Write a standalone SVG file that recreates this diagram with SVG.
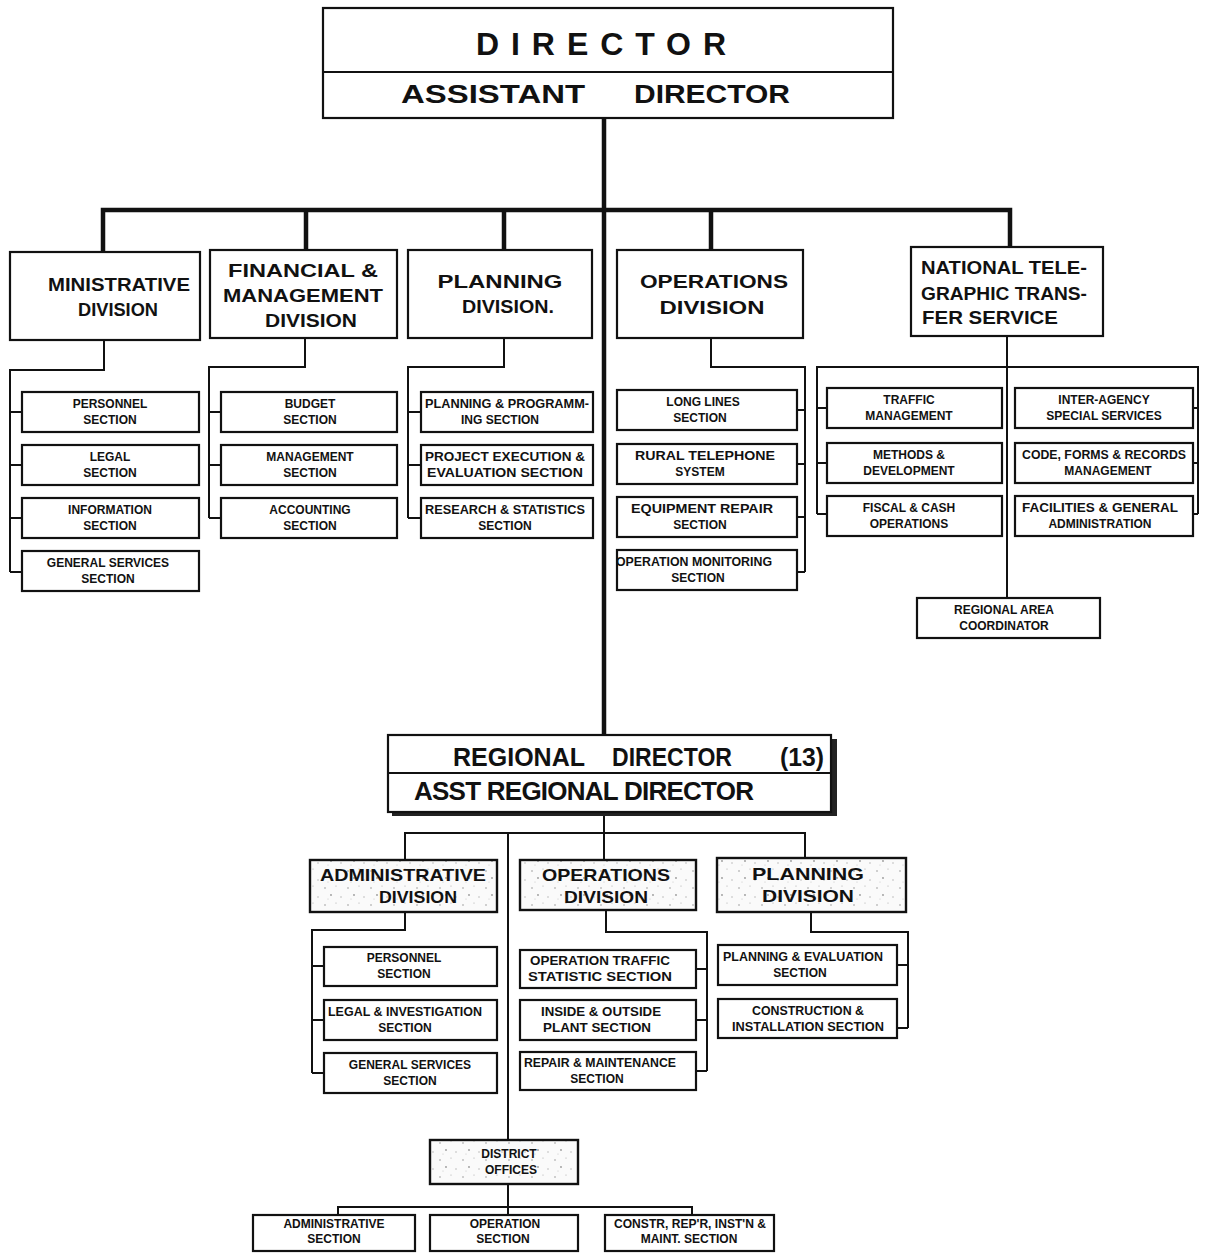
<svg xmlns="http://www.w3.org/2000/svg" width="1205" height="1254" viewBox="0 0 1205 1254">
<style>
.box{fill:#fff;stroke:#111;stroke-width:2.2}
.spk{fill:url(#speck);stroke:#111;stroke-width:2.4}
.ln{fill:none;stroke:#111;stroke-width:2}
.thick{fill:none;stroke:#111;stroke-width:4.5}
text{font-family:"Liberation Sans",Arial,sans-serif;font-weight:bold;fill:#111;text-anchor:middle}
.big{font-size:32px}
.h1{font-size:26px}
.dv{font-size:19px}
.dv2{font-size:17px}
.sc{font-size:12px}
</style>
<defs>
<pattern id="speck" width="23" height="17" patternUnits="userSpaceOnUse">
<rect width="23" height="17" fill="#fafafa"/>
<circle cx="3" cy="4" r="0.8" fill="#999"/>
<circle cx="14" cy="2" r="0.6" fill="#aaa"/>
<circle cx="9" cy="11" r="0.9" fill="#999"/>
<circle cx="19" cy="13" r="0.7" fill="#aaa"/>
<circle cx="6" cy="15" r="0.5" fill="#bbb"/>
</pattern>
</defs>
<rect width="1205" height="1254" fill="#fff"/>

<g id="connectors">
<path class="thick" d="M604,118 V736"/>
<path class="thick" d="M103,252 V210 H1010 V247 M306,210 V250 M504,210 V250 M711,210 V250"/>
<!-- ministrative -->
<path class="ln" d="M104,340 V370 H10 V572 M10,412 H22 M10,465 H22 M10,518 H22 M10,572 H22"/>
<!-- financial -->
<path class="ln" d="M305,338 V367 H209 V518 M209,412 H221 M209,465 H221 M209,518 H221"/>
<!-- planning -->
<path class="ln" d="M504,338 V367 H408 V518 M408,412 H421 M408,465 H421 M408,518 H421"/>
<!-- operations -->
<path class="ln" d="M711,338 V367 H805 V572 M805,410 H797 M805,464 H797 M805,517 H797 M805,572 H797"/>
<!-- NTTS -->
<path class="ln" d="M1007,336 V598 M817,514 V367 H1198 V514 M817,408 H827 M817,463 H827 M817,514 H827 M1198,408 H1193 M1198,463 H1193 M1198,514 H1193"/>
<!-- regional -->
<path class="ln" d="M604,812 V860 M405,860 V833 H805 V858 M508,833 V1140"/>
<path class="ln" d="M405,912 V930 H312 V1073 M312,966 H324 M312,1020 H324 M312,1073 H324"/>
<path class="ln" d="M606,910 V932 H707 V1071 M707,969 H696 M707,1020 H696 M707,1071 H696"/>
<path class="ln" d="M811,912 V932 H908 V1028 M908,965 H897 M908,1028 H897"/>
<path class="ln" d="M508,1184 V1207 M338,1215 V1207 H692 V1215 M508,1207 V1215"/>
</g>

<g id="director">
<rect class="box" x="323" y="8" width="570" height="110"/>
<line x1="323" y1="72" x2="893" y2="72" stroke="#111" stroke-width="2"/>
<text class="big" x="601" y="55" textLength="250" lengthAdjust="spacing">DIRECTOR</text>
<text class="h1" x="493" y="103" textLength="184" lengthAdjust="spacingAndGlyphs">ASSISTANT</text>
<text class="h1" x="712" y="103" textLength="156" lengthAdjust="spacingAndGlyphs">DIRECTOR</text>
</g>

<g id="div-admin">
<rect class="box" x="10" y="252" width="190" height="88"/>
<text class="dv" x="119" y="291" textLength="142" lengthAdjust="spacingAndGlyphs">MINISTRATIVE</text>
<text class="dv" x="118" y="316" textLength="80" lengthAdjust="spacingAndGlyphs">DIVISION</text>
</g>
<g id="div-fin">
<rect class="box" x="210" y="250" width="187" height="88"/>
<text class="dv" x="303" y="277" textLength="150" lengthAdjust="spacingAndGlyphs">FINANCIAL &amp;</text>
<text class="dv" x="303" y="302" textLength="160" lengthAdjust="spacingAndGlyphs">MANAGEMENT</text>
<text class="dv" x="311" y="327" textLength="92" lengthAdjust="spacingAndGlyphs">DIVISION</text>
</g>
<g id="div-plan">
<rect class="box" x="408" y="250" width="184" height="88"/>
<text class="dv" x="500" y="288" textLength="125" lengthAdjust="spacingAndGlyphs">PLANNING</text>
<text class="dv" x="508" y="313" textLength="92" lengthAdjust="spacingAndGlyphs">DIVISION.</text>
</g>
<g id="div-ops">
<rect class="box" x="617" y="250" width="186" height="88"/>
<text class="dv" x="714" y="288" textLength="148" lengthAdjust="spacingAndGlyphs">OPERATIONS</text>
<text class="dv" x="712" y="314" textLength="105" lengthAdjust="spacingAndGlyphs">DIVISION</text>
</g>
<g id="div-ntts">
<rect class="box" x="911" y="247" width="192" height="89"/>
<text class="dv" x="1004" y="274" textLength="166" lengthAdjust="spacingAndGlyphs">NATIONAL TELE-</text>
<text class="dv" x="1004" y="300" textLength="166" lengthAdjust="spacingAndGlyphs">GRAPHIC TRANS-</text>
<text class="dv" x="990" y="324" textLength="136" lengthAdjust="spacingAndGlyphs">FER SERVICE</text>
</g>

<g id="s-personnel"><rect class="box" x="22" y="392" width="177" height="40"/><text class="sc" x="110" y="408">PERSONNEL</text><text class="sc" x="110" y="424">SECTION</text></g>
<g id="s-legal"><rect class="box" x="22" y="445" width="177" height="40"/><text class="sc" x="110" y="461">LEGAL</text><text class="sc" x="110" y="477">SECTION</text></g>
<g id="s-info"><rect class="box" x="22" y="498" width="177" height="40"/><text class="sc" x="110" y="514">INFORMATION</text><text class="sc" x="110" y="530">SECTION</text></g>
<g id="s-gensvc"><rect class="box" x="22" y="551" width="177" height="40"/><text class="sc" x="108" y="567">GENERAL SERVICES</text><text class="sc" x="108" y="583">SECTION</text></g>

<g id="s-budget"><rect class="box" x="221" y="392" width="176" height="40"/><text class="sc" x="310" y="408">BUDGET</text><text class="sc" x="310" y="424">SECTION</text></g>
<g id="s-mgmt"><rect class="box" x="221" y="445" width="176" height="40"/><text class="sc" x="310" y="461">MANAGEMENT</text><text class="sc" x="310" y="477">SECTION</text></g>
<g id="s-acct"><rect class="box" x="221" y="498" width="176" height="40"/><text class="sc" x="310" y="514">ACCOUNTING</text><text class="sc" x="310" y="530">SECTION</text></g>

<g id="s-planprog"><rect class="box" x="421" y="392" width="172" height="40"/><text class="sc" x="507" y="408" textLength="164" lengthAdjust="spacingAndGlyphs">PLANNING &amp; PROGRAMM-</text><text class="sc" x="500" y="424">ING SECTION</text></g>
<g id="s-projexec"><rect class="box" x="421" y="445" width="172" height="40"/><text class="sc" x="505" y="461" textLength="160" lengthAdjust="spacingAndGlyphs">PROJECT EXECUTION &amp;</text><text class="sc" x="505" y="477" textLength="156" lengthAdjust="spacingAndGlyphs">EVALUATION SECTION</text></g>
<g id="s-research"><rect class="box" x="421" y="498" width="172" height="40"/><text class="sc" x="505" y="514" textLength="160" lengthAdjust="spacingAndGlyphs">RESEARCH &amp; STATISTICS</text><text class="sc" x="505" y="530">SECTION</text></g>

<g id="s-longlines"><rect class="box" x="617" y="390" width="180" height="40"/><text class="sc" x="703" y="406">LONG LINES</text><text class="sc" x="700" y="422">SECTION</text></g>
<g id="s-rural"><rect class="box" x="617" y="444" width="180" height="40"/><text class="sc" x="705" y="460" textLength="140" lengthAdjust="spacingAndGlyphs">RURAL TELEPHONE</text><text class="sc" x="700" y="476">SYSTEM</text></g>
<g id="s-equip"><rect class="box" x="617" y="497" width="180" height="40"/><text class="sc" x="702" y="513" textLength="142" lengthAdjust="spacingAndGlyphs">EQUIPMENT REPAIR</text><text class="sc" x="700" y="529">SECTION</text></g>
<g id="s-opmon"><rect class="box" x="617" y="550" width="180" height="40"/><text class="sc" x="694" y="566" textLength="156" lengthAdjust="spacingAndGlyphs">OPERATION MONITORING</text><text class="sc" x="698" y="582">SECTION</text></g>

<g id="s-traffic"><rect class="box" x="827" y="388" width="175" height="40"/><text class="sc" x="909" y="404">TRAFFIC</text><text class="sc" x="909" y="420">MANAGEMENT</text></g>
<g id="s-methods"><rect class="box" x="827" y="443" width="175" height="40"/><text class="sc" x="909" y="459">METHODS  &amp;</text><text class="sc" x="909" y="475">DEVELOPMENT</text></g>
<g id="s-fiscal"><rect class="box" x="827" y="496" width="175" height="40"/><text class="sc" x="909" y="512">FISCAL  &amp;  CASH</text><text class="sc" x="909" y="528">OPERATIONS</text></g>
<g id="s-interagency"><rect class="box" x="1015" y="388" width="178" height="40"/><text class="sc" x="1104" y="404">INTER-AGENCY</text><text class="sc" x="1104" y="420">SPECIAL SERVICES</text></g>
<g id="s-code"><rect class="box" x="1015" y="443" width="178" height="40"/><text class="sc" x="1104" y="459" textLength="164" lengthAdjust="spacingAndGlyphs">CODE, FORMS &amp; RECORDS</text><text class="sc" x="1108" y="475">MANAGEMENT</text></g>
<g id="s-facilities"><rect class="box" x="1015" y="496" width="178" height="40"/><text class="sc" x="1100" y="512" textLength="156" lengthAdjust="spacingAndGlyphs">FACILITIES &amp; GENERAL</text><text class="sc" x="1100" y="528">ADMINISTRATION</text></g>
<g id="s-regarea"><rect class="box" x="917" y="598" width="183" height="40"/><text class="sc" x="1004" y="614" font-size="11">REGIONAL AREA</text><text class="sc" x="1004" y="630">COORDINATOR</text></g>

<g id="regional-director">
<rect x="392" y="739" width="445" height="77" fill="#222"/>
<rect class="box" x="388" y="735" width="443" height="77"/>
<line x1="388" y1="773" x2="831" y2="773" stroke="#111" stroke-width="2"/>
<text class="h1" x="519" y="766" font-size="22" textLength="132" lengthAdjust="spacingAndGlyphs">REGIONAL</text>
<text class="h1" x="672" y="766" font-size="22" textLength="120" lengthAdjust="spacingAndGlyphs">DIRECTOR</text>
<text class="h1" x="802" y="766" font-size="22" textLength="44" lengthAdjust="spacingAndGlyphs">(13)</text>
<text class="h1" x="584" y="800" font-size="19" textLength="340" lengthAdjust="spacing">ASST REGIONAL DIRECTOR</text>
</g>

<g id="r-div-admin"><rect class="spk" x="310" y="860" width="187" height="52"/><text class="dv2" x="403" y="881" textLength="166" lengthAdjust="spacingAndGlyphs">ADMINISTRATIVE</text><text class="dv2" x="418" y="903" textLength="78" lengthAdjust="spacingAndGlyphs">DIVISION</text></g>
<g id="r-div-ops"><rect class="spk" x="520" y="860" width="176" height="50"/><text class="dv2" x="606" y="881" textLength="128" lengthAdjust="spacingAndGlyphs">OPERATIONS</text><text class="dv2" x="606" y="903" textLength="84" lengthAdjust="spacingAndGlyphs">DIVISION</text></g>
<g id="r-div-plan"><rect class="spk" x="717" y="858" width="189" height="54"/><text class="dv2" x="808" y="880" textLength="112" lengthAdjust="spacingAndGlyphs">PLANNING</text><text class="dv2" x="808" y="902" textLength="92" lengthAdjust="spacingAndGlyphs">DIVISION</text></g>

<g id="r-s-personnel"><rect class="box" x="324" y="947" width="173" height="39"/><text class="sc" x="404" y="962">PERSONNEL</text><text class="sc" x="404" y="978">SECTION</text></g>
<g id="r-s-legal"><rect class="box" x="324" y="1000" width="173" height="40"/><text class="sc" x="405" y="1016" textLength="154" lengthAdjust="spacingAndGlyphs">LEGAL &amp; INVESTIGATION</text><text class="sc" x="405" y="1032">SECTION</text></g>
<g id="r-s-gensvc"><rect class="box" x="324" y="1053" width="173" height="40"/><text class="sc" x="410" y="1069">GENERAL SERVICES</text><text class="sc" x="410" y="1085">SECTION</text></g>

<g id="r-s-optraffic"><rect class="box" x="520" y="950" width="176" height="38"/><text class="sc" x="600" y="965" textLength="140" lengthAdjust="spacingAndGlyphs">OPERATION TRAFFIC</text><text class="sc" x="600" y="981" textLength="144" lengthAdjust="spacingAndGlyphs">STATISTIC   SECTION</text></g>
<g id="r-s-inside"><rect class="box" x="520" y="1000" width="176" height="40"/><text class="sc" x="601" y="1016" textLength="120" lengthAdjust="spacingAndGlyphs">INSIDE &amp; OUTSIDE</text><text class="sc" x="597" y="1032" textLength="108" lengthAdjust="spacingAndGlyphs">PLANT SECTION</text></g>
<g id="r-s-repair"><rect class="box" x="520" y="1052" width="176" height="38"/><text class="sc" x="600" y="1067" textLength="152" lengthAdjust="spacingAndGlyphs">REPAIR &amp; MAINTENANCE</text><text class="sc" x="597" y="1083">SECTION</text></g>

<g id="r-s-planeval"><rect class="box" x="718" y="945" width="179" height="40"/><text class="sc" x="803" y="961" textLength="160" lengthAdjust="spacingAndGlyphs">PLANNING &amp; EVALUATION</text><text class="sc" x="800" y="977">SECTION</text></g>
<g id="r-s-constr"><rect class="box" x="718" y="999" width="179" height="39"/><text class="sc" x="808" y="1015" textLength="112" lengthAdjust="spacingAndGlyphs">CONSTRUCTION &amp;</text><text class="sc" x="808" y="1031" textLength="152" lengthAdjust="spacingAndGlyphs">INSTALLATION SECTION</text></g>

<g id="district-offices"><rect class="spk" x="430" y="1140" width="148" height="44"/><text class="sc" x="509" y="1158" font-size="13">DISTRICT</text><text class="sc" x="511" y="1174" font-size="13">OFFICES</text></g>

<g id="d-admin"><rect class="box" x="253" y="1215" width="162" height="36"/><text class="sc" x="334" y="1228" font-size="11">ADMINISTRATIVE</text><text class="sc" x="334" y="1243" font-size="11">SECTION</text></g>
<g id="d-ops"><rect class="box" x="430" y="1215" width="148" height="36"/><text class="sc" x="505" y="1228" font-size="11">OPERATION</text><text class="sc" x="503" y="1243" font-size="11">SECTION</text></g>
<g id="d-constr"><rect class="box" x="605" y="1215" width="169" height="36"/><text class="sc" x="690" y="1228" font-size="11" textLength="152" lengthAdjust="spacingAndGlyphs">CONSTR, REP'R, INST'N &amp;</text><text class="sc" x="689" y="1243" font-size="11">MAINT. SECTION</text></g>
</svg>
